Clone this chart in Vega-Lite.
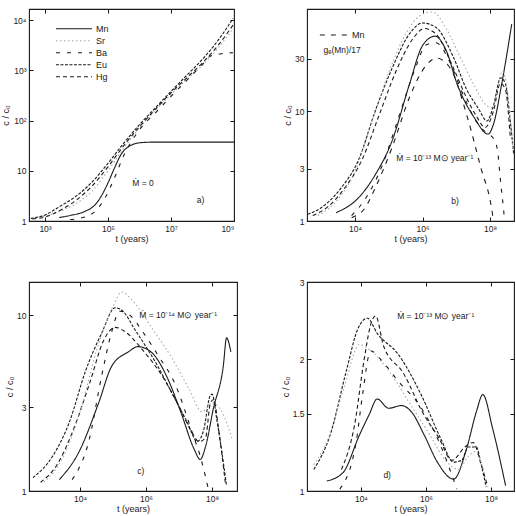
{
  "$schema": "https://vega.github.io/schema/vega-lite/v6.json",
  "background": "white",
  "padding": {"left": 1, "top": 7, "right": 0, "bottom": 0},
  "config": {
    "font": "Liberation Sans",
    "view": {"stroke": "#1a1a1a", "strokeWidth": 1.1},
    "axis": {
      "domain": false,
      "grid": false,
      "tickSize": -4,
      "tickColor": "#1a1a1a",
      "tickWidth": 1,
      "labelFont": "Liberation Sans",
      "labelFontSize": 8.5,
      "labelColor": "#1a1a1a",
      "labelPadding": 7,
      "titleFont": "Liberation Sans",
      "titleFontSize": 9,
      "titleFontWeight": "normal",
      "titleColor": "#1a1a1a",
      "titlePadding": 2
    },
    "legend": {
      "labelFont": "Liberation Sans",
      "labelFontSize": 9,
      "labelColor": "#1a1a1a"
    },
    "text": {"font": "Liberation Sans", "fontSize": 8.5, "color": "#1a1a1a"}
  },
  "datasets": {
    "a": [
      {"s": "Mn", "t": 2818, "c": 1.17}, {"s": "Mn", "t": 6310, "c": 1.29}, {"s": "Mn", "t": 18200, "c": 1.55},
      {"s": "Mn", "t": 39800, "c": 2.14}, {"s": "Mn", "t": 61700, "c": 3.16}, {"s": "Mn", "t": 100000, "c": 5.75},
      {"s": "Mn", "t": 162000, "c": 11.5}, {"s": "Mn", "t": 263000, "c": 21.4}, {"s": "Mn", "t": 479000, "c": 30.9},
      {"s": "Mn", "t": 1120000, "c": 36.3}, {"s": "Mn", "t": 3160000, "c": 37.2}, {"s": "Mn", "t": 1000000000, "c": 37.2},
      {"s": "Sr", "t": 355, "c": 1.15}, {"s": "Sr", "t": 1000, "c": 1.26}, {"s": "Sr", "t": 3162, "c": 1.58},
      {"s": "Sr", "t": 10000, "c": 2.24}, {"s": "Sr", "t": 31600, "c": 3.98}, {"s": "Sr", "t": 100000, "c": 10},
      {"s": "Sr", "t": 316000, "c": 28.2}, {"s": "Sr", "t": 1000000, "c": 70.8}, {"s": "Sr", "t": 3160000, "c": 158},
      {"s": "Sr", "t": 10000000, "c": 331}, {"s": "Sr", "t": 31600000, "c": 661}, {"s": "Sr", "t": 100000000, "c": 1259},
      {"s": "Sr", "t": 316000000, "c": 2818}, {"s": "Sr", "t": 930000000, "c": 6761},
      {"s": "Ba", "t": 6310, "c": 1.07}, {"s": "Ba", "t": 15800, "c": 1.17}, {"s": "Ba", "t": 39800, "c": 1.58},
      {"s": "Ba", "t": 79400, "c": 2.82}, {"s": "Ba", "t": 158000, "c": 7.08}, {"s": "Ba", "t": 316000, "c": 20},
      {"s": "Ba", "t": 1000000, "c": 66}, {"s": "Ba", "t": 3160000, "c": 141}, {"s": "Ba", "t": 10000000, "c": 302},
      {"s": "Ba", "t": 31600000, "c": 631}, {"s": "Ba", "t": 100000000, "c": 1318}, {"s": "Ba", "t": 186000000, "c": 1950},
      {"s": "Ba", "t": 398000000, "c": 2138}, {"s": "Ba", "t": 930000000, "c": 2239},
      {"s": "Eu", "t": 355, "c": 1.12}, {"s": "Eu", "t": 1000, "c": 1.32}, {"s": "Eu", "t": 3162, "c": 2.0},
      {"s": "Eu", "t": 10000, "c": 3.16}, {"s": "Eu", "t": 31600, "c": 6.03}, {"s": "Eu", "t": 100000, "c": 14.1},
      {"s": "Eu", "t": 316000, "c": 35.5}, {"s": "Eu", "t": 1000000, "c": 83.2}, {"s": "Eu", "t": 3160000, "c": 178},
      {"s": "Eu", "t": 10000000, "c": 380}, {"s": "Eu", "t": 31600000, "c": 794}, {"s": "Eu", "t": 100000000, "c": 1660},
      {"s": "Eu", "t": 316000000, "c": 3981}, {"s": "Eu", "t": 930000000, "c": 10700},
      {"s": "Hg", "t": 398, "c": 1.10}, {"s": "Hg", "t": 1000, "c": 1.20}, {"s": "Hg", "t": 3162, "c": 1.66},
      {"s": "Hg", "t": 10000, "c": 2.63}, {"s": "Hg", "t": 31600, "c": 5.01}, {"s": "Hg", "t": 100000, "c": 12.0},
      {"s": "Hg", "t": 316000, "c": 31.6}, {"s": "Hg", "t": 1000000, "c": 75.9}, {"s": "Hg", "t": 3160000, "c": 166},
      {"s": "Hg", "t": 10000000, "c": 355}, {"s": "Hg", "t": 31600000, "c": 708}, {"s": "Hg", "t": 100000000, "c": 1413},
      {"s": "Hg", "t": 316000000, "c": 3162}, {"s": "Hg", "t": 930000000, "c": 7943}
    ],
    "b": [
      {"s": "Mn", "t": 2754, "c": 1.19}, {"s": "Mn", "t": 12600, "c": 1.62}, {"s": "Mn", "t": 39800, "c": 2.63},
      {"s": "Mn", "t": 126000, "c": 5.37}, {"s": "Mn", "t": 407000, "c": 17.4}, {"s": "Mn", "t": 1020000, "c": 39.8},
      {"s": "Mn", "t": 2340000, "c": 47.9}, {"s": "Mn", "t": 5010000, "c": 35.5}, {"s": "Mn", "t": 10700000, "c": 17.4},
      {"s": "Mn", "t": 33900000, "c": 8.71}, {"s": "Mn", "t": 87100000, "c": 6.17}, {"s": "Mn", "t": 126000000, "c": 7.59},
      {"s": "Mn", "t": 219000000, "c": 17.4}, {"s": "Mn", "t": 437000000, "c": 61.7},
      {"s": "Mn_ge", "t": 7940, "c": 1.07}, {"s": "Mn_ge", "t": 20000, "c": 1.32}, {"s": "Mn_ge", "t": 39800, "c": 2.0},
      {"s": "Mn_ge", "t": 126000, "c": 4.68}, {"s": "Mn_ge", "t": 407000, "c": 13.2}, {"s": "Mn_ge", "t": 1320000, "c": 26.3},
      {"s": "Mn_ge", "t": 2630000, "c": 30.2}, {"s": "Mn_ge", "t": 6610000, "c": 24.5}, {"s": "Mn_ge", "t": 21400000, "c": 8.71},
      {"s": "Mn_ge", "t": 53700000, "c": 3.02}, {"s": "Mn_ge", "t": 110000000, "c": 1.32}, {"s": "Mn_ge", "t": 126000000, "c": 1.0},
      {"s": "Eu", "t": 398, "c": 1.15}, {"s": "Eu", "t": 1000, "c": 1.32}, {"s": "Eu", "t": 3890, "c": 2.0},
      {"s": "Eu", "t": 12600, "c": 3.55}, {"s": "Eu", "t": 39800, "c": 10}, {"s": "Eu", "t": 126000, "c": 24.5},
      {"s": "Eu", "t": 407000, "c": 50.1}, {"s": "Eu", "t": 1000000, "c": 63.1}, {"s": "Eu", "t": 2510000, "c": 57.5},
      {"s": "Eu", "t": 7940000, "c": 31.6}, {"s": "Eu", "t": 20000000, "c": 15.8}, {"s": "Eu", "t": 43700000, "c": 10.7},
      {"s": "Eu", "t": 81300000, "c": 8.13}, {"s": "Eu", "t": 126000000, "c": 11.2}, {"s": "Eu", "t": 204000000, "c": 20},
      {"s": "Eu", "t": 282000000, "c": 17.8}, {"s": "Eu", "t": 398000000, "c": 7.94}, {"s": "Eu", "t": 501000000, "c": 3.98},
      {"s": "Hg", "t": 562, "c": 1.12}, {"s": "Hg", "t": 1585, "c": 1.35}, {"s": "Hg", "t": 5010, "c": 2.0},
      {"s": "Hg", "t": 15800, "c": 3.55}, {"s": "Hg", "t": 50100, "c": 8.91}, {"s": "Hg", "t": 158000, "c": 22.4},
      {"s": "Hg", "t": 501000, "c": 44.7}, {"s": "Hg", "t": 1120000, "c": 56.2}, {"s": "Hg", "t": 2510000, "c": 50.1},
      {"s": "Hg", "t": 7940000, "c": 25.1}, {"s": "Hg", "t": 20000000, "c": 13.2}, {"s": "Hg", "t": 39800000, "c": 8.91},
      {"s": "Hg", "t": 70800000, "c": 7.08}, {"s": "Hg", "t": 126000000, "c": 10}, {"s": "Hg", "t": 200000000, "c": 17.8},
      {"s": "Hg", "t": 282000000, "c": 15.8}, {"s": "Hg", "t": 398000000, "c": 5.62},
      {"s": "Ba", "t": 7940, "c": 1.12}, {"s": "Ba", "t": 20000, "c": 1.58}, {"s": "Ba", "t": 63100, "c": 3.16},
      {"s": "Ba", "t": 200000, "c": 8.91}, {"s": "Ba", "t": 631000, "c": 25.1}, {"s": "Ba", "t": 1260000, "c": 39.8},
      {"s": "Ba", "t": 2510000, "c": 41.7}, {"s": "Ba", "t": 6310000, "c": 28.2}, {"s": "Ba", "t": 15800000, "c": 14.1},
      {"s": "Ba", "t": 39800000, "c": 7.94}, {"s": "Ba", "t": 79400000, "c": 6.31}, {"s": "Ba", "t": 126000000, "c": 5.62},
      {"s": "Ba", "t": 166000000, "c": 4.37}, {"s": "Ba", "t": 204000000, "c": 2.29}, {"s": "Ba", "t": 251000000, "c": 1.26},
      {"s": "Ba", "t": 269000000, "c": 1.0},
      {"s": "Sr", "t": 794, "c": 1.12}, {"s": "Sr", "t": 3162, "c": 1.58}, {"s": "Sr", "t": 10000, "c": 2.82},
      {"s": "Sr", "t": 31600, "c": 7.94}, {"s": "Sr", "t": 100000, "c": 22.4}, {"s": "Sr", "t": 316000, "c": 50.1},
      {"s": "Sr", "t": 1000000, "c": 75.9}, {"s": "Sr", "t": 2000000, "c": 79.4}, {"s": "Sr", "t": 5010000, "c": 56.2},
      {"s": "Sr", "t": 12600000, "c": 31.6}, {"s": "Sr", "t": 31600000, "c": 17.8}, {"s": "Sr", "t": 79400000, "c": 11.2},
      {"s": "Sr", "t": 117000000, "c": 10.7}, {"s": "Sr", "t": 234000000, "c": 22.9}, {"s": "Sr", "t": 316000000, "c": 15.8},
      {"s": "Sr", "t": 468000000, "c": 4.57}
    ],
    "c": [
      {"s": "Mn", "t": 2344, "c": 1.16}, {"s": "Mn", "t": 9120, "c": 1.66}, {"s": "Mn", "t": 36300, "c": 3.16},
      {"s": "Mn", "t": 91200, "c": 5.13}, {"s": "Mn", "t": 288000, "c": 6.17}, {"s": "Mn", "t": 562000, "c": 6.61},
      {"s": "Mn", "t": 1410000, "c": 6.17}, {"s": "Mn", "t": 4470000, "c": 4.37}, {"s": "Mn", "t": 11200000, "c": 2.82},
      {"s": "Mn", "t": 28200000, "c": 1.74}, {"s": "Mn", "t": 43700000, "c": 1.51}, {"s": "Mn", "t": 63100000, "c": 1.78},
      {"s": "Mn", "t": 110000000, "c": 2.95}, {"s": "Mn", "t": 219000000, "c": 5.13}, {"s": "Mn", "t": 275000000, "c": 7.41},
      {"s": "Mn", "t": 372000000, "c": 6.17},
      {"s": "Eu", "t": 372, "c": 1.19}, {"s": "Eu", "t": 1480, "c": 1.58}, {"s": "Eu", "t": 4680, "c": 2.45},
      {"s": "Eu", "t": 14500, "c": 4.79}, {"s": "Eu", "t": 45700, "c": 7.94}, {"s": "Eu", "t": 115000, "c": 11.0},
      {"s": "Eu", "t": 200000, "c": 10.5}, {"s": "Eu", "t": 447000, "c": 8.32}, {"s": "Eu", "t": 2240000, "c": 5.13},
      {"s": "Eu", "t": 6310000, "c": 3.55}, {"s": "Eu", "t": 17800000, "c": 2.45}, {"s": "Eu", "t": 35500000, "c": 1.91},
      {"s": "Eu", "t": 56200000, "c": 2.24}, {"s": "Eu", "t": 87100000, "c": 3.47}, {"s": "Eu", "t": 100000000, "c": 3.55},
      {"s": "Eu", "t": 141000000, "c": 2.51}, {"s": "Eu", "t": 275000000, "c": 1.07},
      {"s": "Hg", "t": 631, "c": 1.12}, {"s": "Hg", "t": 2000, "c": 1.41}, {"s": "Hg", "t": 6310, "c": 2.24},
      {"s": "Hg", "t": 20000, "c": 4.17}, {"s": "Hg", "t": 50100, "c": 7.08}, {"s": "Hg", "t": 115000, "c": 8.51},
      {"s": "Hg", "t": 251000, "c": 7.94}, {"s": "Hg", "t": 794000, "c": 6.31}, {"s": "Hg", "t": 3160000, "c": 4.47},
      {"s": "Hg", "t": 10000000, "c": 3.02}, {"s": "Hg", "t": 25100000, "c": 2.14}, {"s": "Hg", "t": 39800000, "c": 1.91},
      {"s": "Hg", "t": 63100000, "c": 2.0}, {"s": "Hg", "t": 89100000, "c": 3.16}, {"s": "Hg", "t": 112000000, "c": 3.31},
      {"s": "Hg", "t": 158000000, "c": 2.24}, {"s": "Hg", "t": 251000000, "c": 1.12},
      {"s": "Ba", "t": 5750, "c": 1.16}, {"s": "Ba", "t": 18200, "c": 1.91}, {"s": "Ba", "t": 45700, "c": 4.57},
      {"s": "Ba", "t": 89100, "c": 7.94}, {"s": "Ba", "t": 158000, "c": 10.5}, {"s": "Ba", "t": 316000, "c": 10},
      {"s": "Ba", "t": 891000, "c": 7.76}, {"s": "Ba", "t": 2510000, "c": 5.75}, {"s": "Ba", "t": 7080000, "c": 4.17},
      {"s": "Ba", "t": 27500000, "c": 2.04}, {"s": "Ba", "t": 43700000, "c": 1.58}, {"s": "Ba", "t": 77600000, "c": 1.02},
      {"s": "Sr", "t": 794, "c": 1.12}, {"s": "Sr", "t": 3162, "c": 1.58}, {"s": "Sr", "t": 10000, "c": 2.82},
      {"s": "Sr", "t": 31600, "c": 6.31}, {"s": "Sr", "t": 100000, "c": 11.2}, {"s": "Sr", "t": 182000, "c": 13.5},
      {"s": "Sr", "t": 398000, "c": 12.0}, {"s": "Sr", "t": 1580000, "c": 8.32}, {"s": "Sr", "t": 6310000, "c": 5.62},
      {"s": "Sr", "t": 20000000, "c": 3.8}, {"s": "Sr", "t": 50100000, "c": 2.82}, {"s": "Sr", "t": 100000000, "c": 3.16},
      {"s": "Sr", "t": 200000000, "c": 2.82}, {"s": "Sr", "t": 398000000, "c": 2.0}
    ],
    "d": [
      {"s": "Mn", "t": 891, "c": 1.054}, {"s": "Mn", "t": 2818, "c": 1.102}, {"s": "Mn", "t": 8910, "c": 1.34},
      {"s": "Mn", "t": 17800, "c": 1.493}, {"s": "Mn", "t": 31600, "c": 1.622}, {"s": "Mn", "t": 70800, "c": 1.545},
      {"s": "Mn", "t": 178000, "c": 1.567}, {"s": "Mn", "t": 355000, "c": 1.517}, {"s": "Mn", "t": 891000, "c": 1.34},
      {"s": "Mn", "t": 2240000, "c": 1.164}, {"s": "Mn", "t": 7080000, "c": 1.064}, {"s": "Mn", "t": 17800000, "c": 1.25},
      {"s": "Mn", "t": 35500000, "c": 1.517}, {"s": "Mn", "t": 56200000, "c": 1.66}, {"s": "Mn", "t": 112000000, "c": 1.39},
      {"s": "Mn", "t": 282000000, "c": 1.028},
      {"s": "Eu", "t": 355, "c": 1.12}, {"s": "Eu", "t": 1120, "c": 1.34}, {"s": "Eu", "t": 3550, "c": 1.88},
      {"s": "Eu", "t": 7940, "c": 2.34}, {"s": "Eu", "t": 15800, "c": 2.48}, {"s": "Eu", "t": 31600, "c": 2.29},
      {"s": "Eu", "t": 141000, "c": 2.05}, {"s": "Eu", "t": 708000, "c": 1.66}, {"s": "Eu", "t": 2820000, "c": 1.32},
      {"s": "Eu", "t": 7080000, "c": 1.164}, {"s": "Eu", "t": 12600000, "c": 1.175}, {"s": "Eu", "t": 20000000, "c": 1.26},
      {"s": "Eu", "t": 35500000, "c": 1.26}, {"s": "Eu", "t": 50100000, "c": 1.148}, {"s": "Eu", "t": 70800000, "c": 1.023},
      {"s": "Hg", "t": 2512, "c": 1.12}, {"s": "Hg", "t": 6310, "c": 1.41}, {"s": "Hg", "t": 12600, "c": 2.0},
      {"s": "Hg", "t": 20000, "c": 2.4}, {"s": "Hg", "t": 28200, "c": 2.51}, {"s": "Hg", "t": 50100, "c": 2.14},
      {"s": "Hg", "t": 200000, "c": 1.86}, {"s": "Hg", "t": 794000, "c": 1.51}, {"s": "Hg", "t": 2510000, "c": 1.32},
      {"s": "Hg", "t": 6310000, "c": 1.175}, {"s": "Hg", "t": 15800000, "c": 1.26}, {"s": "Hg", "t": 28200000, "c": 1.29},
      {"s": "Hg", "t": 50100000, "c": 1.148}, {"s": "Hg", "t": 79400000, "c": 1.023},
      {"s": "Sr", "t": 355, "c": 1.148}, {"s": "Sr", "t": 1000, "c": 1.32}, {"s": "Sr", "t": 3162, "c": 1.74},
      {"s": "Sr", "t": 8910, "c": 2.16}, {"s": "Sr", "t": 20000, "c": 2.09}, {"s": "Sr", "t": 79400, "c": 1.86},
      {"s": "Sr", "t": 316000, "c": 1.585}, {"s": "Sr", "t": 1260000, "c": 1.35}, {"s": "Sr", "t": 3980000, "c": 1.175},
      {"s": "Sr", "t": 10000000, "c": 1.12}, {"s": "Sr", "t": 20000000, "c": 1.2}, {"s": "Sr", "t": 31600000, "c": 1.23},
      {"s": "Sr", "t": 63100000, "c": 1.096},
      {"s": "Ba", "t": 2239, "c": 1.01}, {"s": "Ba", "t": 7080, "c": 1.29}, {"s": "Ba", "t": 11200, "c": 1.66},
      {"s": "Ba", "t": 20000, "c": 2.09}, {"s": "Ba", "t": 39800, "c": 2.0}, {"s": "Ba", "t": 141000, "c": 1.78},
      {"s": "Ba", "t": 708000, "c": 1.55}, {"s": "Ba", "t": 2820000, "c": 1.27}, {"s": "Ba", "t": 8910000, "c": 1.01}
    ],
    "aText": [
      {"t": 590000, "c": 5.8, "label": "Ṁ = 0"},
      {"t": 66000000, "c": 2.63, "label": "a)"}
    ],
    "bText": [
      {"t": 166000, "c": 3.74, "label": "Ṁ = 10⁻¹³ M⊙ year⁻¹"},
      {"t": 7100000, "c": 1.52, "label": "b)"},
      {"t": 1175, "c": 35.9, "label": "gₑ(Mn)/17"}
    ],
    "cText": [
      {"t": 620000, "c": 10, "label": "Ṁ = 10⁻¹⁴ M⊙ year⁻¹"},
      {"t": 540000, "c": 1.3, "label": "c)"}
    ],
    "dText": [
      {"t": 130000, "c": 2.51, "label": "Ṁ = 10⁻¹³ M⊙ year⁻¹"},
      {"t": 49000, "c": 1.09, "label": "d)"}
    ]
  },
  "spacing": 32,
  "resolve": {
    "scale": {"strokeDash": "independent", "color": "independent"},
    "legend": {"strokeDash": "independent", "color": "independent"}
  },
  "vconcat": [
    {
      "bounds": "flush",
      "spacing": 73,
      "resolve": {
        "scale": {"strokeDash": "independent", "color": "independent"},
        "legend": {"strokeDash": "independent", "color": "independent"}
      },
      "hconcat": [
        {
          "width": 205,
          "height": 212,
          "resolve": {"axis": {"x": "independent", "y": "independent"}},
          "layer": [
            {
              "data": {"name": "a"},
              "mark": {"type": "line", "strokeWidth": 1.1, "interpolate": "monotone", "clip": true},
              "encoding": {
                "x": {"field": "t", "type": "quantitative",
                  "scale": {"type": "log", "domain": [310, 1000000000], "nice": false},
                  "axis": {"orient": "bottom", "title": "t (years)", "values": [1000, 100000, 10000000, 1000000000],
                    "labelExpr": "datum.value == 1000 ? '10³' : datum.value == 100000 ? '10⁵' : datum.value == 10000000 ? '10⁷' : '10⁹'"}},
                "y": {"field": "c", "type": "quantitative",
                  "scale": {"type": "log", "domain": [1, 16600], "nice": false},
                  "axis": {"orient": "left", "title": "c / c₀", "values": [1, 10, 100, 1000, 10000],
                    "labelExpr": "datum.value == 1 ? '1' : datum.value == 10 ? '10' : datum.value == 100 ? '10²' : datum.value == 1000 ? '10³' : '10⁴'"}},
                "strokeDash": {"field": "s", "type": "nominal",
                  "scale": {"domain": ["Mn", "Sr", "Ba", "Eu", "Hg"], "range": [[1, 0], [1.5, 2.5], [4, 7], [3, 1.5], [4, 3]]},
                  "legend": {"orient": "none", "legendX": 26, "legendY": 14, "title": null, "symbolType": "stroke",
                    "symbolSize": 1300, "symbolStrokeWidth": 1.1, "labelOffset": 3, "clipHeight": 11.5, "rowPadding": 0}},
                "color": {"field": "s", "type": "nominal",
                  "scale": {"domain": ["Mn", "Sr", "Ba", "Eu", "Hg"], "range": ["#1a1a1a", "#a8a8a8", "#1a1a1a", "#1a1a1a", "#1a1a1a"]},
                  "legend": {"orient": "none", "legendX": 26, "legendY": 14, "title": null, "symbolType": "stroke",
                    "symbolSize": 1300, "symbolStrokeWidth": 1.1, "labelOffset": 3, "clipHeight": 11.5, "rowPadding": 0}}
              }
            },
            {
              "data": {"name": "aText"},
              "mark": {"type": "text", "align": "left", "baseline": "middle"},
              "encoding": {
                "x": {"field": "t", "type": "quantitative",
                  "axis": {"orient": "top", "labels": false, "title": null, "values": [1000, 100000, 10000000]}},
                "y": {"field": "c", "type": "quantitative",
                  "axis": {"orient": "right", "labels": false, "title": null, "values": [10, 100, 1000, 10000]}},
                "text": {"field": "label"}
              }
            }
          ]
        },
        {
          "width": 207,
          "height": 212,
          "resolve": {"axis": {"x": "independent", "y": "independent"}},
          "layer": [
            {
              "data": {"name": "b"},
              "mark": {"type": "line", "strokeWidth": 1.1, "interpolate": "monotone", "clip": true},
              "encoding": {
                "x": {"field": "t", "type": "quantitative",
                  "scale": {"type": "log", "domain": [380, 510000000], "nice": false},
                  "axis": {"orient": "bottom", "title": "t (years)", "values": [10000, 1000000, 100000000],
                    "labelExpr": "datum.value == 10000 ? '10⁴' : datum.value == 1000000 ? '10⁶' : '10⁸'"}},
                "y": {"field": "c", "type": "quantitative",
                  "scale": {"type": "log", "domain": [1, 84.6], "nice": false},
                  "axis": {"orient": "left", "title": "c / c₀", "values": [1, 3, 10, 30], "format": "~g"}},
                "strokeDash": {"field": "s", "type": "nominal",
                  "scale": {"domain": ["Mn", "Sr", "Ba", "Eu", "Hg", "Mn_ge"], "range": [[1, 0], [1.5, 2.5], [4, 7], [3, 1.5], [4, 3], [5, 6]]},
                  "legend": {"orient": "none", "legendX": 12, "legendY": 11, "title": null, "symbolType": "stroke",
                    "symbolSize": 800, "symbolStrokeWidth": 1.1, "labelOffset": 3, "values": ["Mn_ge"], "labelExpr": "'Mn'"}},
                "color": {"field": "s", "type": "nominal",
                  "scale": {"domain": ["Mn", "Sr", "Ba", "Eu", "Hg", "Mn_ge"], "range": ["#1a1a1a", "#a8a8a8", "#1a1a1a", "#1a1a1a", "#1a1a1a", "#1a1a1a"]},
                  "legend": {"orient": "none", "legendX": 12, "legendY": 11, "title": null, "symbolType": "stroke",
                    "symbolSize": 800, "symbolStrokeWidth": 1.1, "labelOffset": 3, "values": ["Mn_ge"], "labelExpr": "'Mn'"}}
              }
            },
            {
              "data": {"name": "bText"},
              "mark": {"type": "text", "align": "left", "baseline": "middle"},
              "encoding": {
                "x": {"field": "t", "type": "quantitative",
                  "axis": {"orient": "top", "labels": false, "title": null, "values": [10000, 1000000, 100000000]}},
                "y": {"field": "c", "type": "quantitative",
                  "axis": {"orient": "right", "labels": false, "title": null, "values": [3, 10, 30]}},
                "text": {"field": "label"}
              }
            }
          ]
        }
      ]
    },
    {
      "bounds": "flush",
      "spacing": 70,
      "resolve": {
        "scale": {"strokeDash": "independent", "color": "independent"},
        "legend": {"strokeDash": "independent", "color": "independent"}
      },
      "hconcat": [
        {
          "width": 208,
          "height": 209,
          "resolve": {"axis": {"x": "independent", "y": "independent"}},
          "layer": [
            {
              "data": {"name": "c"},
              "mark": {"type": "line", "strokeWidth": 1.1, "interpolate": "monotone", "clip": true},
              "encoding": {
                "x": {"field": "t", "type": "quantitative",
                  "scale": {"type": "log", "domain": [282, 570000000], "nice": false},
                  "axis": {"orient": "bottom", "title": "t (years)", "values": [10000, 1000000, 100000000],
                    "labelExpr": "datum.value == 10000 ? '10⁴' : datum.value == 1000000 ? '10⁶' : '10⁸'"}},
                "y": {"field": "c", "type": "quantitative",
                  "scale": {"type": "log", "domain": [1, 15.4], "nice": false},
                  "axis": {"orient": "left", "title": "c / c₀", "values": [1, 3, 10], "format": "~g"}},
                "strokeDash": {"field": "s", "type": "nominal",
                  "scale": {"domain": ["Mn", "Sr", "Ba", "Eu", "Hg"], "range": [[1, 0], [1.5, 2.5], [4, 7], [3, 1.5], [4, 3]]},
                  "legend": null},
                "color": {"field": "s", "type": "nominal",
                  "scale": {"domain": ["Mn", "Sr", "Ba", "Eu", "Hg"], "range": ["#1a1a1a", "#a8a8a8", "#1a1a1a", "#1a1a1a", "#1a1a1a"]},
                  "legend": null}
              }
            },
            {
              "data": {"name": "cText"},
              "mark": {"type": "text", "align": "left", "baseline": "middle"},
              "encoding": {
                "x": {"field": "t", "type": "quantitative",
                  "axis": {"orient": "top", "labels": false, "title": null, "values": [10000, 1000000, 100000000]}},
                "y": {"field": "c", "type": "quantitative",
                  "axis": {"orient": "right", "labels": false, "title": null, "values": [3, 10]}},
                "text": {"field": "label"}
              }
            }
          ]
        },
        {
          "width": 207,
          "height": 209,
          "resolve": {"axis": {"x": "independent", "y": "independent"}},
          "layer": [
            {
              "data": {"name": "d"},
              "mark": {"type": "line", "strokeWidth": 1.1, "interpolate": "monotone", "clip": true},
              "encoding": {
                "x": {"field": "t", "type": "quantitative",
                  "scale": {"type": "log", "domain": [219, 510000000], "nice": false},
                  "axis": {"orient": "bottom", "title": "t (years)", "values": [10000, 1000000, 100000000],
                    "labelExpr": "datum.value == 10000 ? '10⁴' : datum.value == 1000000 ? '10⁶' : '10⁸'"}},
                "y": {"field": "c", "type": "quantitative",
                  "scale": {"type": "log", "domain": [1, 3], "nice": false},
                  "axis": {"orient": "left", "title": "c / c₀", "values": [1, 1.5, 2, 3], "format": "~g"}},
                "strokeDash": {"field": "s", "type": "nominal",
                  "scale": {"domain": ["Mn", "Sr", "Ba", "Eu", "Hg"], "range": [[1, 0], [1.5, 2.5], [4, 7], [3, 1.5], [4, 3]]},
                  "legend": null},
                "color": {"field": "s", "type": "nominal",
                  "scale": {"domain": ["Mn", "Sr", "Ba", "Eu", "Hg"], "range": ["#1a1a1a", "#a8a8a8", "#1a1a1a", "#1a1a1a", "#1a1a1a"]},
                  "legend": null}
              }
            },
            {
              "data": {"name": "dText"},
              "mark": {"type": "text", "align": "left", "baseline": "middle"},
              "encoding": {
                "x": {"field": "t", "type": "quantitative",
                  "axis": {"orient": "top", "labels": false, "title": null, "values": [10000, 1000000, 100000000]}},
                "y": {"field": "c", "type": "quantitative",
                  "axis": {"orient": "right", "labels": false, "title": null, "values": [1.5, 2, 3]}},
                "text": {"field": "label"}
              }
            }
          ]
        }
      ]
    }
  ]
}
